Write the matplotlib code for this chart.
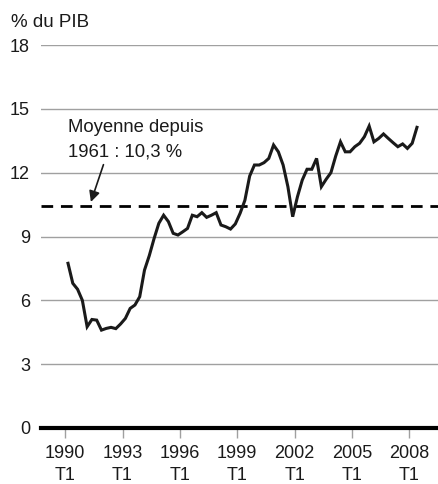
import matplotlib.pyplot as plt
import numpy as np

plt.rcParams['font.family'] = ['Liberation Sans', 'DejaVu Sans']

# quarterly values, 1990 T1 .. 2008 T2 (% du PIB)
values = [7.74, 6.8, 6.52, 6.0, 4.76, 5.1, 5.07, 4.6, 4.68, 4.73,
          4.67, 4.89, 5.15, 5.62, 5.78, 6.17, 7.42, 8.1, 8.9, 9.62,
          10.0, 9.7, 9.15, 9.07, 9.22, 9.38, 10.0, 9.93, 10.12, 9.9,
          10.0, 10.12, 9.54, 9.46, 9.35, 9.59, 10.09, 10.7, 11.84, 12.36,
          12.36, 12.47, 12.67, 13.3, 12.98, 12.36, 11.34, 9.93, 10.87, 11.65,
          12.16, 12.16, 12.67, 11.34, 11.69, 12.0, 12.78, 13.45, 12.98, 12.98,
          13.22, 13.38, 13.69, 14.19, 13.45, 13.61, 13.82, 13.61, 13.41, 13.22,
          13.35, 13.14, 13.38, 14.13]
years = [1990, 1993, 1996, 1999, 2002, 2005, 2008]
y_ticks = [0, 3, 6, 9, 12, 15, 18]
average = 10.45  # drawn position of the 1961 average line

x = np.arange(len(values))

fig = plt.figure(figsize=(4.38, 4.84), dpi=100)
ax = fig.add_axes([41 / 438, 56 / 484, 397 / 438, 383 / 484])

for v in y_ticks[1:]:
    ax.axhline(v, color='#a0a0a0', lw=1.0, zorder=1)
ax.axhline(0, color='black', lw=3.0, zorder=4, clip_on=False)
ax.axhline(average, color='black', lw=2.0, ls=(0, (4.2, 2.8)), zorder=2)

ax.plot(x, values, color='#1a1a1a', lw=2.2, zorder=3, solid_joinstyle='miter')

ax.set_ylim(0, 18)
ax.set_xlim(-5.65, 77.4)
ax.set_yticks(y_ticks)
ax.set_yticklabels([str(v) for v in y_ticks])
tick_pos = [(y - 1990) * 4 - 0.6 for y in years]
ax.set_xticks(tick_pos)
ax.set_xticklabels([f"{y}\nT1" for y in years], linespacing=1.4)

ax.tick_params(axis='y', length=0, pad=8, labelsize=13, colors='#1a1a1a')
ax.tick_params(axis='x', length=7, width=1, color='#a0a0a0', pad=5,
               labelsize=13, labelcolor='#1a1a1a')
for s in ax.spines.values():
    s.set_visible(False)

ax.annotate("", xy=(4.6, average + 0.05), xytext=(7.6, 12.5),
            arrowprops=dict(arrowstyle='-|>', color='#1a1a1a', lw=1.2,
                            mutation_scale=16))
ax.text(0.0, 12.78, "Moyenne depuis\n1961 : 10,3 %", fontsize=13.3,
        color='#1a1a1a', linespacing=1.55, va='baseline', ha='left')

fig.text(11 / 438, 1 - 26.7 / 484, "% du PIB", fontsize=13.5,
         color='#1a1a1a', va='baseline')

fig.savefig("out.png", dpi=100)
